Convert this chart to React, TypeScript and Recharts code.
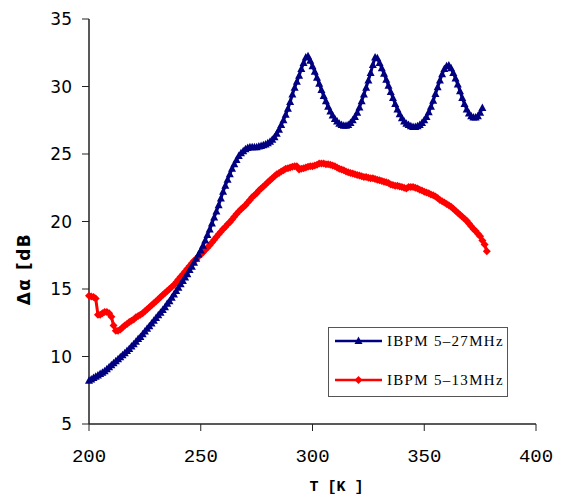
import React from 'react'
import { LineChart, Line, XAxis, YAxis, Legend } from 'recharts'

// ─── Data ─────────────────────────────────────────────────────────────────────

// temperature grid, 1 K steps from T_START
const T_START = 200

// IBPM 5-27MHz, T = 200 … 376 K
const BLUE_VALUES = [
  8.2, 8.3, 8.4, 8.5, 8.6, 8.7, 8.8, 8.9, 9.05, 9.2,
  9.35, 9.5, 9.65, 9.8, 9.95, 10.1, 10.25, 10.4, 10.55, 10.75,
  10.9, 11.1, 11.3, 11.45, 11.65, 11.85, 12.05, 12.25, 12.45, 12.65,
  12.85, 13.05, 13.25, 13.45, 13.65, 13.9, 14.1, 14.35, 14.6, 14.85,
  15.1, 15.35, 15.6, 15.85, 16.1, 16.4, 16.65, 16.95, 17.25, 17.55,
  17.85, 18.2, 18.6, 19.0, 19.4, 19.85, 20.3, 20.75, 21.2, 21.7,
  22.2, 22.65, 23.1, 23.5, 23.9, 24.25, 24.55, 24.85, 25.05, 25.2,
  25.35, 25.45, 25.5, 25.5, 25.5, 25.5, 25.55, 25.6, 25.65, 25.7,
  25.8, 25.9, 26.05, 26.25, 26.5, 26.8, 27.15, 27.5, 27.9, 28.35,
  28.85, 29.4, 29.9, 30.35, 30.8, 31.3, 31.75, 32.15, 32.25, 31.9,
  31.5, 31.1, 30.65, 30.2, 29.75, 29.3, 28.9, 28.5, 28.15, 27.85,
  27.6, 27.4, 27.25, 27.15, 27.1, 27.1, 27.15, 27.3, 27.5, 27.75,
  28.05, 28.45, 28.9, 29.4, 29.9, 30.45, 31.0, 31.6, 32.15, 32.1,
  31.75, 31.35, 30.95, 30.5, 30.05, 29.6, 29.15, 28.7, 28.3, 27.95,
  27.65, 27.4, 27.25, 27.15, 27.05, 27.0, 27.0, 27.05, 27.15, 27.3,
  27.5, 27.75, 28.1, 28.5, 28.95, 29.45, 29.95, 30.45, 30.9, 31.3,
  31.5, 31.55, 31.35, 31.0, 30.6, 30.15, 29.65, 29.15, 28.7, 28.3,
  28.0, 27.8, 27.7, 27.7, 27.8, 28.05, 28.4,
]

// IBPM 5-13MHz, T = 200 … 378 K
const RED_VALUES = [
  14.5, 14.45, 14.4, 14.3, 13.1, 13.1, 13.2, 13.3, 13.3, 13.2,
  12.95, 12.3, 11.9, 11.9, 12.0, 12.15, 12.3, 12.4, 12.55, 12.65,
  12.75, 12.9, 13.0, 13.1, 13.2, 13.35, 13.5, 13.65, 13.8, 13.95,
  14.1, 14.25, 14.4, 14.55, 14.7, 14.85, 15.0, 15.15, 15.3, 15.5,
  15.7, 15.9, 16.1, 16.3, 16.5, 16.7, 16.9, 17.1, 17.25, 17.4,
  17.55, 17.7, 17.9, 18.05, 18.25, 18.45, 18.65, 18.85, 19.05, 19.25,
  19.45, 19.6, 19.8, 19.95, 20.15, 20.35, 20.55, 20.75, 20.9, 21.05,
  21.2, 21.4, 21.6, 21.8, 21.95, 22.1, 22.3, 22.45, 22.6, 22.75,
  22.9, 23.05, 23.2, 23.35, 23.5, 23.6, 23.7, 23.8, 23.9, 23.95,
  24.0, 24.05, 24.1, 24.1, 23.85, 23.9, 23.95, 24.0, 24.05, 24.1,
  24.1, 24.15, 24.2, 24.3, 24.3, 24.3, 24.25, 24.25, 24.2, 24.15,
  24.1, 24.0, 23.9, 23.85, 23.8, 23.7, 23.65, 23.6, 23.55, 23.5,
  23.45, 23.4, 23.35, 23.3, 23.3, 23.25, 23.2, 23.2, 23.15, 23.1,
  23.05, 23.0, 22.95, 22.9, 22.85, 22.75, 22.7, 22.65, 22.65, 22.6,
  22.55, 22.5, 22.45, 22.55, 22.55, 22.55, 22.5, 22.45, 22.35, 22.3,
  22.2, 22.15, 22.1, 22.0, 21.95, 21.85, 21.75, 21.6, 21.5, 21.4,
  21.3, 21.2, 21.1, 20.95, 20.8, 20.65, 20.5, 20.35, 20.2, 20.05,
  19.85, 19.65, 19.45, 19.3, 19.1, 18.9, 18.6, 18.3, 17.8,
]

const X_TICKS = [200, 250, 300, 350, 400]
const Y_TICKS = [5, 10, 15, 20, 25, 30, 35]

const SERIES = [
  { key: 'blue', name: 'IBPM 5\u201327MHz', color: '#000080' },
  { key: 'red', name: 'IBPM 5\u201313MHz', color: '#ff0000' },
]

const data = RED_VALUES.map((red, i) => ({
  t: T_START + i,
  red,
  blue: i < BLUE_VALUES.length ? BLUE_VALUES[i] : null,
}))

// ─── Markers ──────────────────────────────────────────────────────────────────

const triPoints = (cx: number, cy: number) =>
  `${cx},${cy - 4.5} ${cx + 4},${cy + 3} ${cx - 4},${cy + 3}`
const diaPoints = (cx: number, cy: number) =>
  `${cx},${cy - 4} ${cx + 4},${cy} ${cx},${cy + 4} ${cx - 4},${cy}`

function TriangleDot(props: any) {
  const { cx, cy, index } = props
  if (cx == null || cy == null) return <g key={`tri-${index}`} />
  return <polygon key={`tri-${index}`} points={triPoints(cx, cy)} fill="#000080" />
}

function DiamondDot(props: any) {
  const { cx, cy, index } = props
  if (cx == null || cy == null) return <g key={`dia-${index}`} />
  return <polygon key={`dia-${index}`} points={diaPoints(cx, cy)} fill="#ff0000" />
}

// ─── Legend ───────────────────────────────────────────────────────────────────

function BoxLegend() {
  return (
    <div
      style={{
        width: 180,
        height: 70,
        boxSizing: 'border-box',
        border: '1px solid #555',
        background: '#fff',
      }}
    >
      <svg width={178} height={68} style={{ overflow: 'visible', display: 'block' }}>
        {SERIES.map((s, i) => {
          const y = 13 + i * 39
          return (
            <g key={s.key}>
              <line x1={6} x2={53} y1={y} y2={y} stroke={s.color} strokeWidth={2.5} />
              <polygon
                points={s.key === 'blue' ? triPoints(29.5, y) : diaPoints(29.5, y)}
                fill={s.color}
              />
              <text
                x={58}
                y={y + 5}
                fontFamily="'Liberation Serif', serif"
                fontSize={15}
                letterSpacing={1.3}
                fill="#000"
              >
                {s.name}
              </text>
            </g>
          )
        })}
      </svg>
    </div>
  )
}

// ─── App ──────────────────────────────────────────────────────────────────────

if (typeof document !== 'undefined') document.body.style.margin = '0'

const yTick = { fontSize: 17, fill: '#000', fontFamily: "'DejaVu Sans', sans-serif" }
const xTick = { fontSize: 19, fill: '#000', fontFamily: "'Liberation Mono', monospace" }

export default function App() {
  return (
    <div style={{ width: 563, height: 497, background: '#fff' }}>
      <LineChart
        width={563}
        height={497}
        data={data}
        margin={{ top: 19, right: 27, left: 29, bottom: 23 }}
      >
        <XAxis
          dataKey="t"
          type="number"
          domain={[200, 400]}
          ticks={X_TICKS}
          tick={xTick}
          tickSize={7}
          tickMargin={18}
          height={50}
          axisLine={{ stroke: '#222', strokeWidth: 1.5 }}
          tickLine={{ stroke: '#222' }}
          label={() => (
            <text
              x={336.5}
              y={491}
              textAnchor="middle"
              fontFamily="'Liberation Mono', monospace"
              fontWeight="bold"
              fontSize={15}
              fill="#000"
            >
              T [K ]
            </text>
          )}
        />
        <XAxis
          xAxisId="top"
          orientation="top"
          dataKey="t"
          type="number"
          domain={[200, 400]}
          tick={false}
          tickLine={false}
          height={0}
          axisLine={{ stroke: '#888', strokeWidth: 1.5 }}
        />
        <YAxis
          type="number"
          domain={[5, 35]}
          ticks={Y_TICKS}
          tick={yTick}
          tickSize={7}
          tickMargin={10}
          width={60}
          axisLine={{ stroke: '#222', strokeWidth: 1.5 }}
          tickLine={{ stroke: '#222' }}
          label={() => (
            <text
              x={24}
              y={269}
              transform="rotate(-90 24 269)"
              textAnchor="middle"
              dominantBaseline="central"
              fontFamily="'DejaVu Sans', sans-serif"
              fontWeight="bold"
              fontSize={17}
              letterSpacing={1.5}
              fill="#000"
            >
              {'\u0394\u03b1  [dB'}
            </text>
          )}
        />
        <YAxis
          yAxisId="right"
          orientation="right"
          type="number"
          domain={[5, 35]}
          tick={false}
          tickLine={false}
          width={0}
          axisLine={{ stroke: '#888', strokeWidth: 1.5 }}
        />
        <Legend
          layout="vertical"
          align="center"
          verticalAlign="middle"
          content={() => <BoxLegend />}
          wrapperStyle={{ position: 'absolute', left: 328, top: 327, width: 180, height: 70 }}
        />
        <Line
          dataKey="red"
          name="IBPM 5-13MHz"
          stroke="#ff0000"
          strokeWidth={3}
          dot={DiamondDot}
          activeDot={false}
          isAnimationActive={false}
        />
        <Line
          dataKey="blue"
          name="IBPM 5-27MHz"
          stroke="#000080"
          strokeWidth={3}
          dot={TriangleDot}
          activeDot={false}
          isAnimationActive={false}
        />
      </LineChart>
    </div>
  )
}
